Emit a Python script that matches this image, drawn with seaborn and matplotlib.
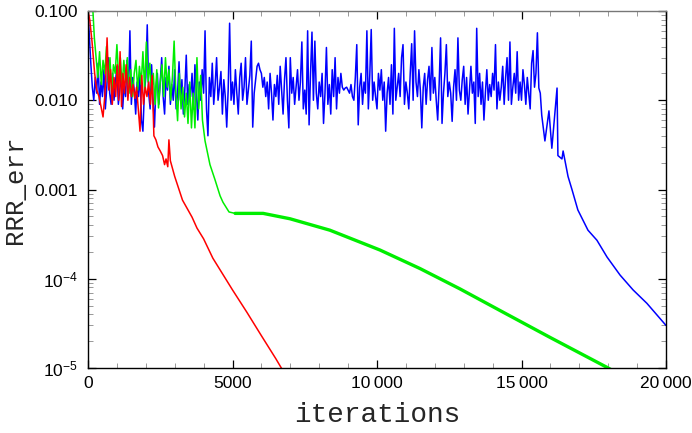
import numpy as np
import pandas as pd
import matplotlib
matplotlib.use("Agg")
import matplotlib.pyplot as plt
import matplotlib.ticker as mticker
import seaborn as sns

# ---------------- data ----------------
red_it = [0, 60, 140, 230, 300, 380, 450, 520, 580, 620, 660, 720, 780, 840, 900, 960,
          1010, 1060, 1110, 1160, 1210, 1260, 1320, 1380, 1440, 1500, 1560, 1620, 1680,
          1740, 1800, 1860, 1920, 1980, 2040, 2100, 2160, 2220, 2280, 2350, 2420, 2500,
          2580, 2650, 2700, 2760, 2800, 2850, 3000, 3270, 3600, 3770, 4000, 4320, 5000,
          5500, 6000, 6500, 6800]
red_err = [0.1, 0.08, 0.045, 0.02, 0.013, 0.011, 0.0085, 0.0065, 0.011, 0.02, 0.05, 0.013,
           0.022, 0.009, 0.018, 0.011, 0.025, 0.01, 0.035, 0.0085, 0.02, 0.012, 0.025, 0.01,
           0.018, 0.011, 0.015, 0.0105, 0.014, 0.008, 0.0045, 0.019, 0.009, 0.014, 0.011,
           0.016, 0.009, 0.019, 0.004, 0.0036, 0.003, 0.0027, 0.0024, 0.0019, 0.0022, 0.0018,
           0.0036, 0.0021, 0.0014, 0.00076, 0.00049, 0.00037, 0.00028, 0.00017, 7.5e-5,
           4.2e-5, 2.3e-5, 1.27e-5, 8.7e-6]

green_it = [0, 100, 170, 220, 280, 340, 400, 460, 520, 580, 640, 700, 760, 820, 880, 940,
            1000, 1060, 1120, 1180, 1240, 1300, 1360, 1420, 1480, 1540, 1600, 1660, 1720,
            1780, 1840, 1900, 1960, 2020, 2080, 2140, 2200, 2260, 2320, 2380, 2440, 2500,
            2560, 2620, 2680, 2740, 2800, 2860, 2920, 2980, 3040, 3100, 3160, 3220, 3280,
            3340, 3400, 3460, 3520, 3580, 3640, 3700, 3770, 3830, 3900, 3960, 4050, 4220,
            4390, 4570, 4670, 4880, 5090]
green_err = [0.15, 0.13, 0.1, 0.05, 0.03, 0.018, 0.035, 0.015, 0.028, 0.02, 0.04, 0.016,
             0.03, 0.012, 0.025, 0.02, 0.042, 0.018, 0.03, 0.014, 0.028, 0.016, 0.03, 0.012,
             0.022, 0.011, 0.02, 0.028, 0.013, 0.024, 0.015, 0.035, 0.013, 0.045, 0.016,
             0.026, 0.012, 0.02, 0.009, 0.022, 0.0082, 0.016, 0.025, 0.011, 0.03, 0.014,
             0.022, 0.01, 0.018, 0.046, 0.012, 0.0059, 0.02, 0.008, 0.014, 0.0065, 0.012,
             0.0055, 0.016, 0.0049, 0.012, 0.0049, 0.03, 0.008, 0.019, 0.006, 0.0035,
             0.0019, 0.0013, 0.00085, 0.00072, 0.00056, 0.00054]

green_tail_it = [5090, 6060, 6990, 8370, 10100, 11490, 12870, 14260, 15990, 18000, 18300]
green_tail_err = [0.00054, 0.00054, 0.00047, 0.00035, 0.00021, 0.00013, 7.7e-5, 4.4e-5,
                  2.2e-5, 1.0e-5, 8.8e-6]

# blue, noisy part: one value every 50 iterations, 0 ... 15650
blue_noisy = [
    0.10, 0.05, 0.025, 0.014, 0.010, 0.018, 0.012, 0.026, 0.009, 0.016,
    0.011, 0.022, 0.008, 0.014, 0.030, 0.012, 0.009, 0.020, 0.010, 0.016,
    0.024, 0.009, 0.013, 0.019, 0.008, 0.015, 0.011, 0.028, 0.012, 0.060,
    0.009, 0.018, 0.013, 0.007, 0.016, 0.011, 0.020, 0.006, 0.0045, 0.012,
    0.018, 0.070, 0.012, 0.008, 0.025, 0.010, 0.005, 0.014, 0.020, 0.009,
    0.016, 0.030, 0.011, 0.007, 0.018, 0.013, 0.024, 0.009, 0.015, 0.010,
    0.022, 0.008, 0.012, 0.027, 0.010, 0.017, 0.007, 0.013, 0.032, 0.009,
    0.015, 0.011, 0.020, 0.008, 0.025, 0.012, 0.006, 0.016, 0.010, 0.022,
    0.012, 0.060, 0.008, 0.004, 0.018, 0.011, 0.026, 0.009, 0.015, 0.030,
    0.010, 0.014, 0.021, 0.007, 0.017, 0.011, 0.005, 0.013, 0.073, 0.010,
    0.016, 0.009, 0.022, 0.012, 0.007, 0.018, 0.026, 0.010, 0.014, 0.030,
    0.009, 0.013, 0.019, 0.046, 0.005, 0.012, 0.017, 0.024, 0.026, 0.022,
    0.020, 0.014, 0.018, 0.011, 0.016, 0.008, 0.020, 0.012, 0.006, 0.015,
    0.011, 0.019, 0.009, 0.024, 0.013, 0.007, 0.017, 0.030, 0.010, 0.0049,
    0.030, 0.012, 0.018, 0.009, 0.014, 0.022, 0.010, 0.016, 0.045, 0.008,
    0.013, 0.007, 0.060, 0.0053, 0.020, 0.058, 0.010, 0.046, 0.012, 0.008,
    0.016, 0.011, 0.020, 0.0055, 0.012, 0.039, 0.009, 0.015, 0.007, 0.022,
    0.011, 0.030, 0.008, 0.018, 0.012, 0.020, 0.014, 0.013, 0.0137, 0.014,
    0.013, 0.012, 0.015, 0.011, 0.010, 0.018, 0.042, 0.0053, 0.014, 0.020,
    0.009, 0.016, 0.012, 0.060, 0.008, 0.019, 0.062, 0.010, 0.016, 0.011,
    0.008, 0.020, 0.013, 0.022, 0.010, 0.016, 0.0045, 0.012, 0.018, 0.009,
    0.025, 0.007, 0.064, 0.010, 0.014, 0.020, 0.011, 0.030, 0.042, 0.009,
    0.016, 0.012, 0.008, 0.020, 0.043, 0.010, 0.060, 0.016, 0.011, 0.022,
    0.013, 0.0049, 0.014, 0.020, 0.009, 0.017, 0.024, 0.010, 0.039, 0.012,
    0.018, 0.010, 0.006, 0.015, 0.050, 0.0055, 0.012, 0.020, 0.042, 0.011,
    0.016, 0.012, 0.0058, 0.014, 0.022, 0.010, 0.050, 0.013, 0.010, 0.017,
    0.024, 0.009, 0.018, 0.007, 0.013, 0.024, 0.012, 0.016, 0.0055, 0.064,
    0.011, 0.020, 0.009, 0.016, 0.006, 0.012, 0.022, 0.010, 0.015, 0.011,
    0.020, 0.013, 0.042, 0.008, 0.016, 0.010, 0.014, 0.024, 0.009, 0.018,
    0.030, 0.010, 0.045, 0.009, 0.014, 0.020, 0.012, 0.035, 0.010, 0.016,
    0.010, 0.022, 0.015, 0.009, 0.018, 0.012, 0.008, 0.026, 0.036, 0.014,
    0.020, 0.057, 0.0137, 0.012]
blue_noisy_it = list(range(0, 50 * len(blue_noisy), 50))
blue_tail_it = [15700, 15810, 15950, 16050, 16230, 16260, 16400, 16440, 16610, 16750,
                16950, 17300, 17610, 17960, 18410, 18860, 19340, 20000]
blue_tail_err = [0.0068, 0.0035, 0.0076, 0.0029, 0.0137, 0.0024, 0.0022, 0.0027, 0.0014,
                 0.00099, 0.00059, 0.00035, 0.00027, 0.000175, 0.00011, 7.5e-5, 5.3e-5, 3.0e-5]

x_ticks = [0, 5000, 10000, 15000, 20000]
x_tick_labels = ["0", "5000", "10\u2009000", "15\u2009000", "20\u2009000"]
y_ticks = [1e-5, 1e-4, 1e-3, 1e-2, 1e-1]
y_tick_labels = [r"$\mathregular{10^{-5}}$", r"$\mathregular{10^{-4}}$", "0.001", "0.010", "0.100"]

# ---------------- plotting ----------------
sns.set_style("ticks")
plt.rcParams["font.family"] = ["Liberation Sans", "DejaVu Sans"]
plt.rcParams["mathtext.fontset"] = "custom"
plt.rcParams["mathtext.rm"] = "Liberation Sans"

fig = plt.figure(figsize=(6.92, 4.33), dpi=100)
ax = fig.add_axes([88 / 692, 1 - 368 / 433, (666 - 88) / 692, (368 - 11) / 433])

blue = pd.DataFrame({"it": blue_noisy_it + blue_tail_it, "err": blue_noisy + blue_tail_err})
green = pd.DataFrame({"it": green_it, "err": green_err})
green_tail = pd.DataFrame({"it": green_tail_it, "err": green_tail_err})
red = pd.DataFrame({"it": red_it, "err": red_err})

sns.lineplot(data=blue, x="it", y="err", color="#0000ff", lw=1.1, sort=False, estimator=None, ax=ax)
sns.lineplot(data=green, x="it", y="err", color="#00ee00", lw=1.1, sort=False, estimator=None, ax=ax)
sns.lineplot(data=green_tail, x="it", y="err", color="#00ee00", lw=2.4, sort=False, estimator=None, ax=ax)
sns.lineplot(data=red, x="it", y="err", color="#ff0000", lw=1.1, sort=False, estimator=None, ax=ax)

ax.set_yscale("log")
ax.set_xlim(0, 20000)
ax.set_ylim(1e-5, 0.1)

ax.set_xticks(x_ticks)
ax.set_xticklabels(x_tick_labels)
ax.xaxis.set_minor_locator(mticker.MultipleLocator(1000))
ax.set_yticks(y_ticks)
ax.set_yticklabels(y_tick_labels)
ax.yaxis.set_minor_locator(mticker.LogLocator(base=10, subs=np.arange(2, 10)))
ax.yaxis.set_minor_formatter(mticker.NullFormatter())

ax.tick_params(which="both", direction="in", top=True, right=True, labelsize=12.5,
               colors="black", labelcolor="black")
ax.tick_params(which="major", length=6, width=0.9)
ax.tick_params(which="minor", length=3.5, width=0.6, color="#888888")
ax.tick_params(axis="x", which="major", pad=6)
ax.tick_params(axis="y", which="major", pad=7)

for side in ["left", "bottom", "right"]:
    ax.spines[side].set_color("black")
    ax.spines[side].set_linewidth(1.0)
ax.spines["top"].set_color("#777777")
ax.spines["top"].set_linewidth(1.0)

ax.set_xlabel("iterations", family="Liberation Mono", fontsize=20, labelpad=8)
ax.set_ylabel("RRR_err", family="Liberation Mono", fontsize=18.5)
ax.yaxis.set_label_coords(-0.106, 0.5)

fig.savefig("out.png", dpi=100)
